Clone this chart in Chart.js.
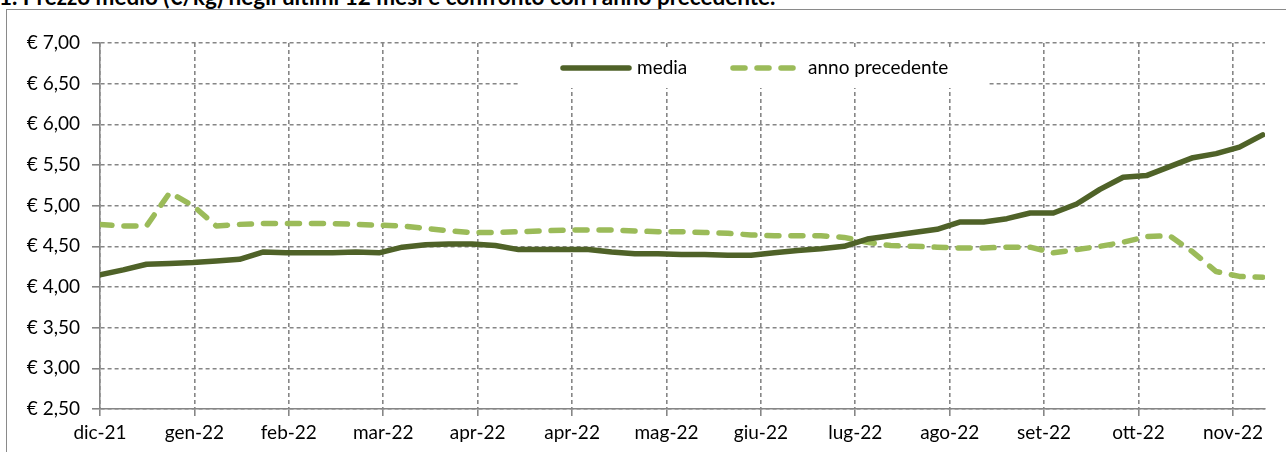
<!DOCTYPE html>
<html><head><meta charset="utf-8">
<script src="https://cdn.jsdelivr.net/npm/chart.js@4.4.0/dist/chart.umd.min.js"></script>
<style>
html,body{margin:0;padding:0;background:#fff;overflow:hidden;}
#wrap{position:relative;width:1286px;height:452px;overflow:hidden;background:#fff;}
#frame{position:absolute;left:6px;top:9px;width:1400px;height:600px;border-left:1.5px solid #8a8a8a;border-top:1.5px solid #8a8a8a;}
#title{position:absolute;left:-1px;top:-13px;font:bold 22.5px Lato;line-height:20px;white-space:nowrap;color:#000;}
canvas{position:absolute;left:0;top:0;}
</style></head>
<body><div id="wrap"><div id="title">1. Prezzo medio (€/kg) negli ultimi 12 mesi e confronto con l'anno precedente.</div><div id="frame"></div><canvas id="c" width="1286" height="452"></canvas></div>
<script>
const monthLabels = ['dic-21','gen-22','feb-22','mar-22','apr-22','apr-22','mag-22','giu-22','lug-22','ago-22','set-22','ott-22','nov-22'];
const seriesNames = ['media', 'anno precedente'];
const media = [4.15,4.21,4.28,4.29,4.30,4.32,4.34,4.43,4.42,4.42,4.42,4.43,4.42,4.49,4.52,4.53,4.53,4.51,4.46,4.46,4.46,4.46,4.43,4.41,4.41,4.40,4.40,4.39,4.39,4.42,4.45,4.47,4.50,4.59,4.63,4.67,4.71,4.80,4.80,4.84,4.91,4.91,5.02,5.20,5.35,5.37,5.48,5.59,5.64,5.72,5.87];
const annoPrecedente = [4.77,4.75,4.75,5.16,5.00,4.75,4.77,4.78,4.78,4.78,4.78,4.77,4.76,4.75,4.72,4.69,4.67,4.67,4.68,4.69,4.70,4.70,4.70,4.69,4.68,4.68,4.67,4.66,4.64,4.63,4.63,4.63,4.61,4.55,4.51,4.50,4.49,4.48,4.48,4.49,4.49,4.42,4.46,4.50,4.55,4.62,4.63,4.43,4.19,4.13,4.12];
const yMin = 2.5, yMax = 7.0, yStep = 0.5;

const X_MAX = 50.1;      // axis extent in point units
const LABEL_STEP = 4.06; // points between month labels

const C_MEDIA = '#4f6228';
const C_PREV = '#9bbb59';
const C_GRID = '#868686';
const FONT = 'Lato';

const inlineLegend = {
  id: 'inlineLegend',
  afterDraw(chart) {
    const ctx = chart.ctx;
    const a = chart.chartArea;
    const bx = a.left + 418, by = a.top + 4, bw = 470, bh = 41;
    const cy = by + 21;
    ctx.save();
    ctx.fillStyle = '#fff';
    ctx.fillRect(bx, by, bw, bh);
    const ds = chart.data.datasets;
    const items = [
      {x1: bx + 45, x2: bx + 111, tx: bx + 119, ds: ds[0]},
      {x1: bx + 215, x2: bx + 275, tx: bx + 290, ds: ds[1]}
    ];
    items.forEach(it => {
      ctx.beginPath();
      ctx.lineWidth = it.ds.borderWidth;
      ctx.strokeStyle = it.ds.borderColor;
      ctx.lineCap = 'round';
      ctx.setLineDash(it.ds.borderDash || []);
      ctx.moveTo(it.x1, cy);
      ctx.lineTo(it.x2, cy);
      ctx.stroke();
      ctx.setLineDash([]);
      ctx.fillStyle = '#000';
      ctx.font = '19px ' + FONT;
      ctx.textBaseline = 'middle';
      ctx.textAlign = 'left';
      ctx.fillText(it.ds.label, it.tx, cy);
    });
    ctx.restore();
  }
};

new Chart(document.getElementById('c'), {
  type: 'line',
  data: {
    datasets: [
      {
        label: seriesNames[0],
        data: media.map((v, i) => ({x: i, y: v})),
        borderColor: C_MEDIA,
        backgroundColor: C_MEDIA,
        borderWidth: 5.5,
        pointRadius: 0,
        tension: 0,
        borderCapStyle: 'round',
        borderJoinStyle: 'round',
        fill: false,
        order: 1
      },
      {
        label: seriesNames[1],
        data: annoPrecedente.map((v, i) => ({x: i, y: v})),
        borderColor: C_PREV,
        backgroundColor: C_PREV,
        borderWidth: 5.5,
        borderDash: [12, 12],
        pointRadius: 0,
        tension: 0,
        borderCapStyle: 'round',
        borderJoinStyle: 'round',
        fill: false,
        order: 2
      }
    ]
  },
  options: {
    responsive: false,
    animation: false,
    devicePixelRatio: 1,
    layout: {padding: {left: 0, right: 21, top: 43, bottom: 0}},
    plugins: {legend: {display: false}, tooltip: {enabled: false}, title: {display: false}},
    scales: {
      x: {
        type: 'linear',
        min: 0,
        max: X_MAX,
        afterFit: s => { s.height = 43; },
        afterBuildTicks: s => { s.ticks = monthLabels.map((_, i) => ({value: i * LABEL_STEP})); },
        grid: {color: C_GRID, lineWidth: 1.6, tickLength: 7, tickColor: C_GRID, tickWidth: 1.6},
        border: {display: true, color: C_GRID, width: 1.6, dash: [4, 3]},
        ticks: {
          autoSkip: false, maxRotation: 0, padding: 5, color: '#000',
          font: {family: FONT, size: 19},
          callback: (v, i) => monthLabels[i]
        }
      },
      y: {
        type: 'linear',
        min: yMin,
        max: yMax,
        afterFit: s => { s.width = 100; },
        grid: {color: C_GRID, lineWidth: 1.6, tickLength: 8, tickColor: C_GRID, tickWidth: 1.6},
        border: {display: true, color: C_GRID, width: 1.6, dash: [4, 3]},
        ticks: {
          stepSize: yStep, padding: 12, color: '#000',
          font: {family: FONT, size: 19},
          callback: v => '€ ' + v.toFixed(2).replace('.', ',')
        }
      }
    }
  },
  plugins: [inlineLegend]
});
</script>
</body></html>
